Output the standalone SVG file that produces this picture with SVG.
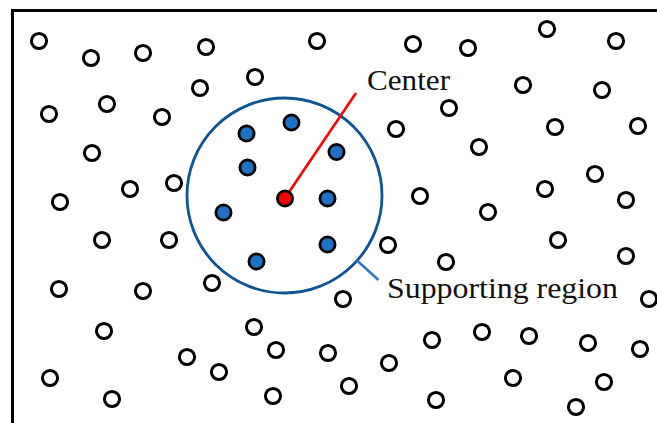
<svg xmlns="http://www.w3.org/2000/svg" width="657" height="423" viewBox="0 0 657 423">
  <style>
    .pt { fill: #ffffff; stroke: #000000; stroke-width: 3; }
    .nb { fill: #1e72c6; stroke: #000000; stroke-width: 2.8; }
    .ctr { fill: #ff0000; stroke: #000000; stroke-width: 2.8; }
    .region { fill: none; stroke: #0f5595; stroke-width: 2.8; }
    .lbl { font-family: "Liberation Serif", "Times New Roman", serif; font-size: 30px; fill: #111111; }
  </style>
  <defs>
    <circle id="p" r="7.6"/>
  </defs>
  <rect width="657" height="423" fill="#ffffff"/>

  <!-- frame (top and left edges) -->
  <path d="M12.5 423 V10.5 H657" fill="none" stroke="#000000" stroke-width="3"/>

  <!-- scattered points -->
  <g id="points">
    <use href="#p" class="pt" x="39" y="41"/>
    <use href="#p" class="pt" x="91" y="58"/>
    <use href="#p" class="pt" x="143" y="53"/>
    <use href="#p" class="pt" x="206" y="47"/>
    <use href="#p" class="pt" x="317" y="41"/>
    <use href="#p" class="pt" x="413" y="44"/>
    <use href="#p" class="pt" x="468" y="48"/>
    <use href="#p" class="pt" x="547" y="29"/>
    <use href="#p" class="pt" x="616" y="41"/>
    <use href="#p" class="pt" x="255" y="77"/>
    <use href="#p" class="pt" x="200" y="88"/>
    <use href="#p" class="pt" x="523" y="85"/>
    <use href="#p" class="pt" x="602" y="90"/>
    <use href="#p" class="pt" x="49" y="114"/>
    <use href="#p" class="pt" x="107" y="104"/>
    <use href="#p" class="pt" x="162" y="117"/>
    <use href="#p" class="pt" x="396" y="129"/>
    <use href="#p" class="pt" x="449" y="108"/>
    <use href="#p" class="pt" x="555" y="127"/>
    <use href="#p" class="pt" x="638" y="126"/>
    <use href="#p" class="pt" x="479" y="147"/>
    <use href="#p" class="pt" x="92" y="153"/>
    <use href="#p" class="pt" x="130" y="189"/>
    <use href="#p" class="pt" x="174" y="183"/>
    <use href="#p" class="pt" x="60" y="202"/>
    <use href="#p" class="pt" x="420" y="196"/>
    <use href="#p" class="pt" x="488" y="212"/>
    <use href="#p" class="pt" x="545" y="189"/>
    <use href="#p" class="pt" x="595" y="174"/>
    <use href="#p" class="pt" x="626" y="200"/>
    <use href="#p" class="pt" x="102" y="240"/>
    <use href="#p" class="pt" x="169" y="240"/>
    <use href="#p" class="pt" x="388" y="245"/>
    <use href="#p" class="pt" x="446" y="262"/>
    <use href="#p" class="pt" x="558" y="240"/>
    <use href="#p" class="pt" x="626" y="256"/>
    <use href="#p" class="pt" x="59" y="289"/>
    <use href="#p" class="pt" x="143" y="291"/>
    <use href="#p" class="pt" x="212" y="283"/>
    <use href="#p" class="pt" x="343" y="299"/>
    <use href="#p" class="pt" x="649" y="299"/>
    <use href="#p" class="pt" x="104" y="331"/>
    <use href="#p" class="pt" x="254" y="327"/>
    <use href="#p" class="pt" x="276" y="350"/>
    <use href="#p" class="pt" x="187" y="357"/>
    <use href="#p" class="pt" x="219" y="372"/>
    <use href="#p" class="pt" x="328" y="353"/>
    <use href="#p" class="pt" x="432" y="340"/>
    <use href="#p" class="pt" x="482" y="332"/>
    <use href="#p" class="pt" x="529" y="336"/>
    <use href="#p" class="pt" x="588" y="343"/>
    <use href="#p" class="pt" x="640" y="349"/>
    <use href="#p" class="pt" x="50" y="378"/>
    <use href="#p" class="pt" x="112" y="399"/>
    <use href="#p" class="pt" x="273" y="396"/>
    <use href="#p" class="pt" x="389" y="363"/>
    <use href="#p" class="pt" x="349" y="386"/>
    <use href="#p" class="pt" x="513" y="378"/>
    <use href="#p" class="pt" x="604" y="382"/>
    <use href="#p" class="pt" x="436" y="400"/>
    <use href="#p" class="pt" x="576" y="407"/>
  </g>

  <!-- supporting region boundary -->
  <g id="supporting-region">
    <circle class="region" cx="284.5" cy="195.5" r="97.5"/>
  </g>

  <!-- connectors: radius to the label and the region leader -->
  <g id="connectors">
    <line x1="285" y1="198" x2="356" y2="93" stroke="#ff0000" stroke-width="2.6"/>
    <line x1="357" y1="260.5" x2="378.5" y2="280" stroke="#2a7ac8" stroke-width="2.6"/>
  </g>

  <!-- neighbour points inside the region -->
  <g id="neighbours">
    <use href="#p" class="nb" x="246.5" y="133.5"/>
    <use href="#p" class="nb" x="291.5" y="122.5"/>
    <use href="#p" class="nb" x="336.5" y="152"/>
    <use href="#p" class="nb" x="247.5" y="167.5"/>
    <use href="#p" class="nb" x="223.5" y="212.5"/>
    <use href="#p" class="nb" x="327.5" y="198.5"/>
    <use href="#p" class="nb" x="327.5" y="244.5"/>
    <use href="#p" class="nb" x="256.5" y="261.5"/>
  </g>

  <!-- center point -->
  <g id="center">
    <use href="#p" class="ctr" x="285" y="198.5"/>
  </g>

  <g id="label-center">
    <text class="lbl" x="367" y="90" textLength="83" lengthAdjust="spacingAndGlyphs">Center</text>
  </g>
  <g id="label-region">
    <text class="lbl" x="387" y="298" textLength="231" lengthAdjust="spacingAndGlyphs">Supporting region</text>
  </g>
</svg>
